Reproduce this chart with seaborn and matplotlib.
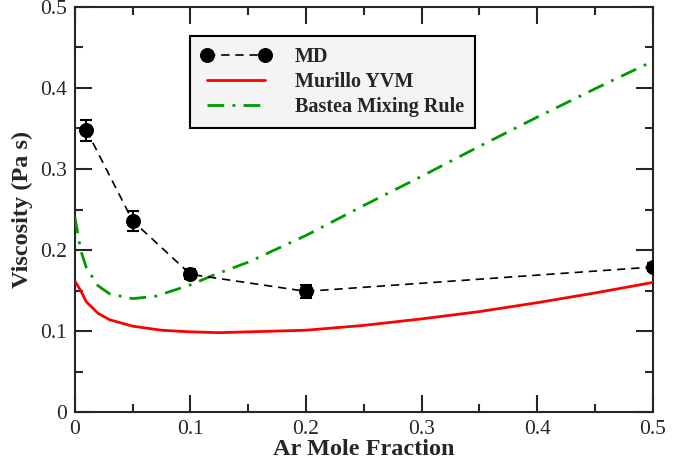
import matplotlib
matplotlib.use("Agg")
import matplotlib.pyplot as plt
import seaborn as sns
import numpy as np
import pandas as pd
from matplotlib.ticker import MultipleLocator

# ---- data ----
md_x = [0.01, 0.05, 0.1, 0.2, 0.5]
md_y = [0.348, 0.236, 0.170, 0.149, 0.179]
md_err = [0.013, 0.012, 0.006, 0.008, 0.005]

yvm_x = [0, 0.005, 0.01, 0.02, 0.03, 0.05, 0.075, 0.1, 0.125, 0.15, 0.2, 0.25, 0.3, 0.35, 0.4, 0.45, 0.5]
yvm_y = [0.162, 0.150, 0.136, 0.122, 0.114, 0.106, 0.101, 0.099, 0.098, 0.099, 0.101, 0.107, 0.115, 0.124, 0.135, 0.147, 0.160]

bas_x = [0, 0.005, 0.01, 0.02, 0.03, 0.05, 0.07, 0.1, 0.12, 0.15, 0.2, 0.25, 0.3, 0.35, 0.4, 0.45, 0.5]
bas_y = [0.241, 0.200, 0.178, 0.156, 0.146, 0.140, 0.143, 0.157, 0.169, 0.185, 0.218, 0.255, 0.291, 0.328, 0.364, 0.399, 0.433]

x_ticks = [0, 0.1, 0.2, 0.3, 0.4, 0.5]
y_ticks = [0, 0.1, 0.2, 0.3, 0.4, 0.5]
x_ticklabels = ["0", "0.1", "0.2", "0.3", "0.4", "0.5"]
y_ticklabels = ["0", "0.1", "0.2", "0.3", "0.4", "0.5"]

sns.set_style("ticks")
plt.rcParams['font.family'] = ['Liberation Serif', 'DejaVu Serif']

fig = plt.figure(figsize=(6.93, 4.63), dpi=100)
ax = fig.add_axes([0.108, 0.110, 0.834, 0.875])

md_df = pd.DataFrame({"x": md_x, "y": md_y})
yvm_df = pd.DataFrame({"x": yvm_x, "y": yvm_y})
bas_df = pd.DataFrame({"x": bas_x, "y": bas_y})

sns.lineplot(data=md_df, x="x", y="y", ax=ax, color="black", linewidth=1.2,
             linestyle=(0, (5, 3.5)), marker="o", markersize=10,
             markeredgecolor="black", label="MD", zorder=4)
ax.errorbar(md_x, md_y, yerr=md_err, fmt="none", ecolor="black",
            elinewidth=1.5, capsize=4, capthick=1.5, zorder=4)
sns.lineplot(data=yvm_df, x="x", y="y", ax=ax, color="red", linewidth=2,
             label="Murillo YVM", zorder=3)
sns.lineplot(data=bas_df, x="x", y="y", ax=ax, color="#009900", linewidth=2,
             linestyle=(0, (6, 3, 1, 3)), label="Bastea Mixing Rule", zorder=3)

ax.set_xlim(0, 0.5)
ax.set_ylim(0, 0.5)
ax.set_xticks(x_ticks)
ax.set_xticklabels(x_ticklabels)
ax.set_yticks(y_ticks)
ax.set_yticklabels(y_ticklabels)
ax.xaxis.set_minor_locator(MultipleLocator(0.05))
ax.yaxis.set_minor_locator(MultipleLocator(0.05))
ax.tick_params(which="both", direction="in", top=True, right=True, width=1.5)
ax.tick_params(which="major", length=12, labelsize=15.5, pad=6)
ax.tick_params(which="minor", length=6)
for s in ax.spines.values():
    s.set_linewidth(1.5)

ax.set_xlabel("Ar Mole Fraction", fontsize=17.5, fontweight="bold", labelpad=0)
ax.set_ylabel("Viscosity (Pa s)", fontsize=17.5, fontweight="bold", labelpad=5)

leg = ax.legend(loc="upper left", bbox_to_anchor=(0.199, 0.928), borderaxespad=0,
                prop={"weight": "bold", "size": 14.5}, fancybox=False,
                framealpha=1, facecolor="#f4f4f4", edgecolor="black",
                handlelength=3.5, numpoints=2, borderpad=0.55, labelspacing=0.25,
                handletextpad=1.15)
leg.get_frame().set_linewidth(1.5)

fig.savefig("out.png", dpi=100)
